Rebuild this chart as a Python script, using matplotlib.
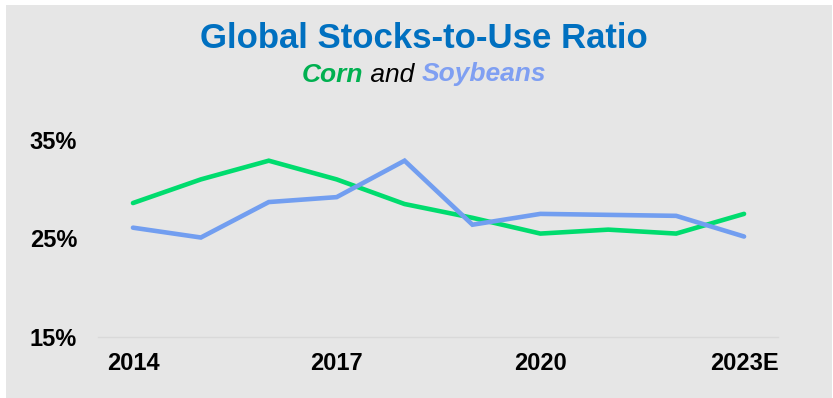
import matplotlib
matplotlib.use("Agg")
import matplotlib.pyplot as plt
from matplotlib.patches import Rectangle
from matplotlib.ticker import FuncFormatter

# Global stocks-to-use ratio, %
years = ["2014", "2015", "2016", "2017", "2018", "2019", "2020", "2021", "2022", "2023E"]
corn = [28.6, 31.0, 32.9, 31.0, 28.5, 27.1, 25.5, 25.9, 25.5, 27.5]
soybeans = [26.1, 25.1, 28.7, 29.2, 32.9, 26.4, 27.5, 27.4, 27.3, 25.2]
shown_years = ["2014", "2017", "2020", "2023E"]
y_ticks = [15, 25, 35]

CORN_LINE = "#00dc6e"
SOY_LINE = "#729ef0"
CORN_TEXT = "#00b050"
SOY_TEXT = "#7f9ff2"
TITLE_BLUE = "#0070c0"
PANEL = "#e6e6e6"

plt.rcParams["font.family"] = ["Liberation Sans", "DejaVu Sans"]

fig = plt.figure(figsize=(8.33, 3.98), dpi=100)
fig.patch.set_facecolor("white")
fig.patches.append(Rectangle((6 / 833, 0), 826 / 833, 393 / 398,
                             transform=fig.transFigure, facecolor=PANEL,
                             edgecolor="none", zorder=-10))

ax = fig.add_axes([98 / 833, 61 / 398, 680 / 833, 197 / 398])
ax.set_facecolor("none")

x = list(range(len(years)))
ax.plot(x, corn, color=CORN_LINE, linewidth=3.3, solid_joinstyle="miter",
        solid_capstyle="round")
ax.plot(x, soybeans, color=SOY_LINE, linewidth=3.3, solid_joinstyle="miter",
        solid_capstyle="round")

ax.set_xlim(-0.515, 9.5)
ax.set_ylim(15, 35)
ax.set_xticks([years.index(y) for y in shown_years])
ax.set_xticklabels(shown_years)
ax.set_yticks(y_ticks)
ax.yaxis.set_major_formatter(FuncFormatter(lambda v, p: f"{v:.0f}%"))

for s in ["top", "right", "left"]:
    ax.spines[s].set_visible(False)
ax.spines["bottom"].set_color("#d9d9d9")
ax.spines["bottom"].set_linewidth(1.0)
ax.tick_params(axis="both", length=0, labelsize=17)
ax.tick_params(axis="x", pad=11)
ax.tick_params(axis="y", pad=15)
for lab in ax.get_xticklabels() + ax.get_yticklabels():
    lab.set_fontweight("bold")

fig.text(0.509, 1 - 47.5 / 398, "Global Stocks-to-Use Ratio", ha="center",
         va="baseline", fontsize=25, fontweight="bold", color=TITLE_BLUE)

# subtitle in three coloured pieces, centred as a group
parts = [("Corn", CORN_TEXT, "bold"), (" and ", "black", "normal"),
         ("Soybeans", SOY_TEXT, "bold")]
fig.canvas.draw()
renderer = fig.canvas.get_renderer()
texts = []
for s, c, w in parts:
    t = fig.text(0, 1 - 81.5 / 398, s, ha="left", va="baseline", fontsize=19,
                 style="italic", fontweight=w, color=c)
    texts.append(t)
widths = [t.get_window_extent(renderer).width for t in texts]
total = sum(widths)
xpos = 0.509 * fig.bbox.width - total / 2
for t, w in zip(texts, widths):
    t.set_x(xpos / fig.bbox.width)
    xpos += w

fig.savefig("out.png", dpi=100)
